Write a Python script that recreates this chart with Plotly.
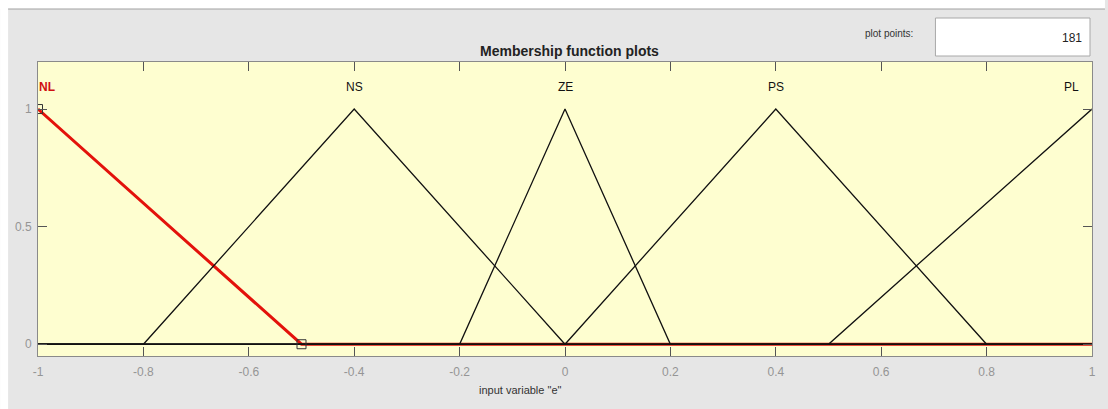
import plotly.graph_objects as go

# Membership functions of input variable "e" (breakpoints and membership grades)
mf_names = ["NL", "NS", "ZE", "PS", "PL"]
nl_x = [-1.0, -0.5, 1.0]
nl_y = [1.0, 0.0, 0.0]
ns_x = [-1.0, -0.8, -0.4, 0.0, 1.0]
ns_y = [0.0, 0.0, 1.0, 0.0, 0.0]
ze_x = [-1.0, -0.2, 0.0, 0.2, 1.0]
ze_y = [0.0, 0.0, 1.0, 0.0, 0.0]
ps_x = [-1.0, 0.0, 0.4, 0.8, 1.0]
ps_y = [0.0, 0.0, 1.0, 0.0, 0.0]
pl_x = [-1.0, 0.5, 1.0]
pl_y = [0.0, 0.0, 1.0]
label_x = [-1.0, -0.4, 0.0, 0.4, 1.0]
handle_x = [-1.0, -0.5]
handle_y = [1.0, 0.0]

x_ticks = [-1, -0.8, -0.6, -0.4, -0.2, 0, 0.2, 0.4, 0.6, 0.8, 1]
x_tick_text = ["-1", "-0.8", "-0.6", "-0.4", "-0.2", "0", "0.2", "0.4", "0.6", "0.8", "1"]
y_ticks = [0, 0.5, 1]
y_tick_text = ["0", "0.5", "1"]
plot_points = 181

W, H = 1108, 409
L, R, T, B = 38, 13, 62, 53
pw, ph = W - L - R, H - T - B


def px(xp):
    return (xp - L) / pw


def py(yp):
    return (H - B - yp) / ph


fig = go.Figure()

fig.add_trace(go.Scatter(x=nl_x, y=nl_y, mode="lines",
                         line=dict(color="#e3120b", width=3), hoverinfo="skip"))
for xs, ys in [(ns_x, ns_y), (ze_x, ze_y), (ps_x, ps_y), (pl_x, pl_y)]:
    fig.add_trace(go.Scatter(x=xs, y=ys, mode="lines",
                             line=dict(color="#111111", width=1.3), hoverinfo="skip"))
fig.add_trace(go.Scatter(x=handle_x, y=handle_y, mode="markers",
                         marker=dict(symbol="square-open", size=9,
                                     color="#333333", line=dict(width=1)),
                         hoverinfo="skip"))

font = "Liberation Sans, Arial, sans-serif"
ann = []
for name, lx in zip(mf_names, label_x):
    a = dict(x=lx, y=1.095, xref="x", yref="y", text=name, showarrow=False,
             font=dict(family=font, size=12, color="#111111"), yanchor="middle")
    if name == "NL":
        a.update(xanchor="left", xshift=-1,
                 text="<b>NL</b>", font=dict(family=font, size=12, color="#d01010"))
    elif name == "PL":
        a.update(xanchor="right", xshift=-11)
    ann.append(a)

ann.append(dict(x=px(571), y=py(51), xref="paper", yref="paper", yanchor="middle",
                text="<b>Membership function plots</b>", showarrow=False,
                font=dict(family=font, size=14, color="#222222")))
ann.append(dict(x=px(522), y=py(390), xref="paper", yref="paper", yanchor="middle",
                text='input variable "e"', showarrow=False,
                font=dict(family=font, size=11, color="#333333")))
ann.append(dict(x=px(917), y=py(33), xref="paper", yref="paper", xanchor="right",
                yanchor="middle", text="plot points:", showarrow=False,
                font=dict(family=font, size=10, color="#333333")))
ann.append(dict(x=px(1087), y=py(38), xref="paper", yref="paper", xanchor="right",
                yanchor="middle", text=str(plot_points), showarrow=False,
                font=dict(family=font, size=12, color="#222222")))

shapes = [
    # white page strips around the panel
    dict(type="rect", xref="paper", yref="paper", x0=px(0), x1=px(W), y0=py(0), y1=py(9),
         fillcolor="white", line=dict(width=0), layer="above"),
    dict(type="rect", xref="paper", yref="paper", x0=px(0), x1=px(8), y0=py(0), y1=py(H),
         fillcolor="white", line=dict(width=0), layer="above"),
    dict(type="line", xref="paper", yref="paper", x0=px(8), x1=px(W), y0=py(9), y1=py(9),
         line=dict(color="#a0a0a0", width=1), layer="above"),
    # plot points edit box
    dict(type="rect", xref="paper", yref="paper", x0=px(938), x1=px(1093),
         y0=py(56), y1=py(18), fillcolor="white",
         line=dict(color="#a8a8a8", width=1), layer="above"),
]

axis_common = dict(showline=True, linecolor="#8a8a8a", linewidth=1, mirror="ticks",
                   ticks="inside", ticklen=9, tickcolor="#555555", tickwidth=1,
                   showgrid=False, zeroline=False,
                   tickfont=dict(family=font, size=12, color="#959595"))

fig.update_layout(
    width=W, height=H,
    margin=dict(l=L, r=R, t=T, b=B),
    paper_bgcolor="#e6e6e6",
    plot_bgcolor="#fefed0",
    showlegend=False,
    annotations=ann,
    shapes=shapes,
    xaxis=dict(range=[-1, 1], tickvals=x_ticks, ticktext=x_tick_text,
               ticklabelstandoff=5, **axis_common),
    yaxis=dict(range=[-0.05, 1.2], tickvals=y_ticks, ticktext=y_tick_text,
               ticklabelstandoff=3, **axis_common),
)

fig.write_html("out.html")
